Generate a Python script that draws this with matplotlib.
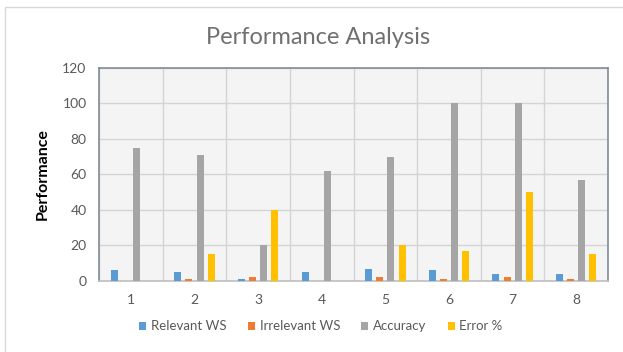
import matplotlib
matplotlib.use("Agg")
import matplotlib.pyplot as plt
import numpy as np
from matplotlib.patches import Rectangle

plt.rcParams['font.family'] = ['Lato', 'DejaVu Sans']

categories = ['1', '2', '3', '4', '5', '6', '7', '8']
relevant_ws = [6, 5, 1, 5, 7, 6, 4, 4]
irrelevant_ws = [0, 1, 2, 0, 2, 1, 2, 1]
accuracy = [75, 71, 20, 62, 70, 100, 100, 57]
error_pct = [0, 15, 40, 0, 20, 17, 50, 15]

series = [
    ('Relevant WS', relevant_ws, '#5B9BD5'),
    ('Irrelevant WS', irrelevant_ws, '#ED7D31'),
    ('Accuracy', accuracy, '#A5A5A5'),
    ('Error %', error_pct, '#FFC000'),
]

fig = plt.figure(figsize=(6.23, 3.52), dpi=100)
fig.patch.set_facecolor('white')
fig.add_artist(Rectangle((0.008, -0.01), 1.0, 0.99, transform=fig.transFigure,
                         fill=False, edgecolor='#D9D9D9', linewidth=1.0))

ax = fig.add_axes([0.159, 0.2017, 0.817, 0.606])
ax.set_facecolor('#F4F4F4')

x = np.arange(len(categories))
slot = 0.175
width = 0.11
for i, (name, vals, color) in enumerate(series):
    ax.bar(x + (i - 1.5) * slot, vals, width=width, color=color, label=name, zorder=3)

ax.set_xlim(-0.5, len(categories) - 0.5)
ax.set_ylim(0, 120)
ax.set_yticks(np.arange(0, 121, 20))
ax.set_xticks(x)
ax.set_xticklabels(categories)
ax.set_xticks(np.arange(-0.5, len(categories), 1), minor=True)
ax.grid(True, which='major', axis='y', color='#D4D4D4', linewidth=1.0, zorder=0)
ax.grid(True, which='minor', axis='x', color='#D4D4D4', linewidth=1.0, zorder=0)
ax.tick_params(axis='both', which='both', length=0, labelsize=10, colors='#595959')
ax.tick_params(axis='x', pad=9)
ax.tick_params(axis='y', pad=9)
for s in ax.spines.values():
    s.set_color('#7F8C99')
    s.set_linewidth(1.2)
ax.spines['bottom'].set_color('#BFBFBF')

ax.set_ylabel('Performance', fontsize=11.5, fontweight='bold', color='black', labelpad=9)

fig.text(0.511, 0.893, 'Performance Analysis', ha='center', va='center',
         fontsize=17, color='#707070')

fig.legend(loc='center', bbox_to_anchor=(0.515, 0.073), ncol=4, frameon=False,
           fontsize=9.5, handlelength=0.55, handleheight=0.55, handletextpad=0.35,
           columnspacing=1.6, labelcolor='#595959')

fig.savefig('out.png', dpi=100, facecolor='white')
